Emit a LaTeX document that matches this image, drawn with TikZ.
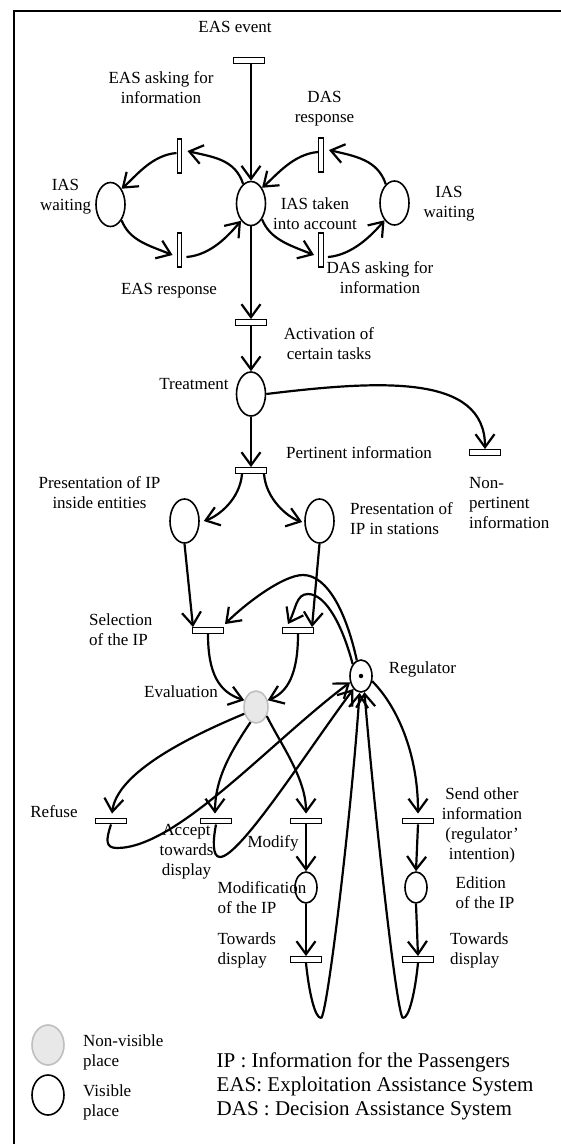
\documentclass[tikz,border=0pt]{standalone}
\usepackage{fontspec}
\setmainfont{Liberation Serif}
\usetikzlibrary{arrows.meta,shapes.geometric}
\newcommand\lblfont{\fontsize{17}{20}\selectfont}
\newcommand\legfont{\fontsize{21}{24}\selectfont}
\tikzset{
  conn/.style={line width=2.2pt, -{Straight Barb[length=13pt,width=19pt]}},
  plainline/.style={line width=2.2pt},
  place/.style={ellipse, draw, line width=1.6pt, inner sep=0pt, minimum width=29pt, minimum height=44pt},
  smallplace/.style={place, minimum width=22pt, minimum height=31pt},
  hiddenplace/.style={place, fill=black!9, draw=black!25},
  hbar/.style={rectangle, draw, line width=1.4pt, fill=white, inner sep=0pt, minimum width=31pt, minimum height=5.5pt},
  vbar/.style={rectangle, draw, line width=1.4pt, fill=white, inner sep=0pt, minimum width=4.5pt, minimum height=34pt},
  lbl/.style={font=\lblfont, inner sep=0pt, align=center},
  lbll/.style={font=\lblfont, inner sep=0pt, align=left, anchor=west},
  frameline/.style={line width=2pt}
}
\begin{document}
\begin{tikzpicture}[x=1pt,y=-1pt]
\useasboundingbox (0,0) rectangle (561,1144);
% frame
\coordinate (fBL) at (13.6,1144);
\coordinate (fTL) at (13.6,11);
\coordinate (fTR) at (561,11);
\draw[frameline] (fBL) -- (fTL) -- (fTR);

% places and transitions
\node[hbar] (tEvent) at (249,60.5) {};
\node[place] (pIAS) at (251,203.5) {};
\node[place] (pWaitL) at (110.5,204.5) {};
\node[place] (pWaitR) at (394.5,203) {};
\node[vbar] (tAskEAS) at (179.5,156) {};
\node[vbar] (tRespEAS) at (179.5,250) {};
\node[vbar] (tRespDAS) at (321,155) {};
\node[vbar] (tAskDAS) at (321,250) {};
\node[hbar] (tAct) at (251,322.5) {};
\node[place] (pTreat) at (251,394) {};
\node[hbar] (tNonPert) at (485,452.5) {};
\node[hbar] (tPert) at (251,470.5) {};
\node[place] (pPresL) at (184.5,521) {};
\node[place] (pPresR) at (319.5,521) {};
\node[hbar] (tSelL) at (208,630.5) {};
\node[hbar] (tSelR) at (298,630.5) {};
\node[smallplace, minimum height=32pt] (pReg) at (361,676) {};
\node[circle, fill, inner sep=0pt, minimum size=4.5pt] (token) at (pReg.center) {};
\node[hiddenplace, minimum width=24pt, minimum height=32pt] (pEval) at (256,707) {};
\node[hbar] (tRefuse) at (111,821) {};
\node[hbar] (tAccept) at (216,821) {};
\node[hbar] (tModify) at (306,821) {};
\node[hbar] (tSend) at (418,821) {};
\node[smallplace] (pModif) at (306,887.5) {};
\node[smallplace] (pEdit) at (416,887.5) {};
\node[hbar] (tTowL) at (306,959.5) {};
\node[hbar] (tTowR) at (418,959.5) {};

% intermediate points of loops
\coordinate (peakOut) at (303,575);
\coordinate (peakIn) at (308,594);
\coordinate (refBot) at (117,848);
\coordinate (accBot) at (220,857);
\coordinate (towLBot) at (321,1018);
\coordinate (towRBot) at (403,1018);

% top part
\draw[conn] (tEvent.south -| pIAS.north) -- (pIAS.north);
\draw[conn] (pIAS.112) .. controls +(-8,-25) and +(25,6) .. ([shift={(5,-5)}]tAskEAS.east);
\draw[conn] ([shift={(0,-3)}]tAskEAS.west) .. controls +(-25,2) and +(14,-12) .. (pWaitL.55);
\draw[conn] (pWaitL.-55) .. controls +(8,20) and +(-25,-10) .. ([shift={(-4,5)}]tRespEAS.west);
\draw[conn] ([shift={(4,7)}]tRespEAS.east) .. controls +(25,-2) and +(-12,14) .. (pIAS.-120);
\draw[conn] (pWaitR.115) .. controls +(-8,-25) and +(25,6) .. ([shift={(5,-5)}]tRespDAS.east);
\draw[conn] ([shift={(0,-3)}]tRespDAS.west) .. controls +(-25,2) and +(14,-12) .. (pIAS.55);
\draw[conn] (pIAS.-55) .. controls +(8,20) and +(-25,-10) .. ([shift={(-4,5)}]tAskDAS.west);
\draw[conn] ([shift={(4,7)}]tAskDAS.east) .. controls +(25,-2) and +(-12,14) .. (pWaitR.-120);

% main column
\draw[conn] (pIAS.south) -- (tAct.north);
\draw[conn] (tAct.south) -- (pTreat.north);
\draw[conn] (pTreat.south) -- (tPert.north);
\draw[conn] (pTreat.east) .. controls +(115,-14) and +(0,-75) .. (tNonPert.north);
\draw[conn] ([shift={(-9,0)}]tPert.south) .. controls +(-2,25) and +(15,-5) .. ([shift={(4,0)}]pPresL.east);
\draw[conn] ([shift={(13,0)}]tPert.south) .. controls +(2,25) and +(-15,-5) .. ([shift={(-2,1)}]pPresR.west);

% selection
\draw[conn] (pPresL.south) -- ([shift={(-15,0)}]tSelL.north);
\draw[conn] (pPresR.south) -- ([shift={(14,0)}]tSelR.north);
\draw[plainline] (pReg.105) .. controls +(-10,-46) and +(25,0) .. (peakOut);
\draw[conn] (peakOut) .. controls +(-20,0) and +(20,-20) .. ([shift={(17,-3)}]tSelL.north);
\draw[plainline] (pReg.125) .. controls +(-10,-38) and +(18,0) .. (peakIn);
\draw[conn] (peakIn) .. controls +(-12,0) and +(8,-15) .. ([shift={(-10,-3)}]tSelR.north);

% evaluation
\draw[conn] (tSelL.south) .. controls +(0,40) and +(-25,-8) .. (pEval.150);
\draw[conn] (tSelR.south) .. controls +(0,40) and +(20,-8) .. (pEval.30);
\draw[conn] (pEval.-150) .. controls +(-60,25) and +(5,-40) .. ([shift={(1,-4)}]tRefuse.north);
\draw[conn] (pEval.-110) .. controls +(-20,30) and +(0,-35) .. ([shift={(-1,-4)}]tAccept.north);
\draw[conn] (pEval.-40) .. controls +(15,30) and +(0,-35) .. ([shift={(0,-4)}]tModify.north);

% loops back to the regulator
\draw[plainline] (tRefuse.south) .. controls +(-5,15) and +(-12,0) .. (refBot);
\draw[conn] (refBot) .. controls +(60,0) and +(-80,60) .. (pReg.-150);
\draw[plainline] (tAccept.south) .. controls +(-3,15) and +(-8,0) .. (accBot);
\draw[conn] (accBot) .. controls +(20,0) and +(-45,60) .. (pReg.-120);
\draw[plainline] (tTowL.south) .. controls +(3,30) and +(-6,0) .. (towLBot);
\draw[conn] (towLBot) .. controls +(6,0) and +(-8,120) .. (pReg.-95);
\draw[plainline] (tTowR.south) .. controls +(-3,30) and +(6,0) .. (towRBot);
\draw[conn] (towRBot) .. controls +(-6,0) and +(10,120) .. (pReg.-78);
\draw[conn] (pReg.-25) .. controls +(25,25) and +(0,-60) .. ([shift={(0,-4)}]tSend.north);

% bottom chains
\draw[conn] (tModify.south) -- (pModif.north);
\draw[conn] (tSend.south) -- (pEdit.north);
\draw[conn] (pModif.south) -- (tTowL.north);
\draw[conn] (pEdit.south) -- (tTowR.north);

% labels
\node[lbl] (lEvent) at (235,27) {EAS event};
\node[lbl] (lAskEAS) at (161,88) {EAS asking for\\information};
\node[lbl] (lRespDAS) at (324.5,109) {DAS\\response};
\node[lbl] (lWaitL) at (65.5,197) {IAS\\waiting};
\node[lbl] (lIAS) at (315,214) {IAS taken\\into account};
\node[lbl] (lWaitR) at (449,203.5) {IAS\\waiting};
\node[lbl] (lRespEAS) at (169,291) {EAS response};
\node[lbl] (lAskDAS) at (380,278) {DAS asking for\\information};
\node[lbl] (lAct) at (329,344) {Activation of\\certain tasks};
\node[lbl] (lTreat) at (194,384) {Treatment};
\node[lbl] (lPert) at (359,453) {Pertinent information};
\node[lbll] (lNonPert) at (469,503) {Non-\\pertinent\\information};
\node[lbl] (lPresL) at (99.5,493) {Presentation of IP\\inside entities};
\node[lbll] (lPresR) at (350,519) {Presentation of\\IP in stations};
\node[lbll] (lSel) at (89,630) {Selection\\of the IP};
\node[lbl] (lReg) at (422.5,669) {Regulator};
\node[lbl] (lEval) at (181,692) {Evaluation};
\node[lbl] (lRefuse) at (54,812) {Refuse};
\node[lbl] (lAccept) at (186.5,852) {Accept\\towards\\display};
\node[lbl] (lModify) at (273,843) {Modify};
\node[lbl] (lSend) at (482,825) {Send other\\information\\(regulator’\\intention)};
\node[lbll] (lModif) at (217.5,898) {Modification\\of the IP};
\node[lbll] (lEdit) at (455.5,893) {Edition\\of the IP};
\node[lbll] (lTowL) at (217.5,950) {Towards\\display};
\node[lbll] (lTowR) at (450,950) {Towards\\display};

% legend
\node[hiddenplace, minimum width=32pt, minimum height=40pt] (legNV) at (48,1045) {};
\node[place, minimum width=32pt, minimum height=40pt] (legV) at (48,1095) {};
\node[lbll] (legNVt) at (83,1052) {Non-visible\\place};
\node[lbll] (legVt) at (83,1102) {Visible\\place};
\node[inner sep=0pt, align=left, anchor=west, font=\legfont] (legTxt) at (216.5,1086) {IP : Information for the Passengers\\EAS: Exploitation Assistance System\\DAS : Decision Assistance System};
\end{tikzpicture}
\end{document}
